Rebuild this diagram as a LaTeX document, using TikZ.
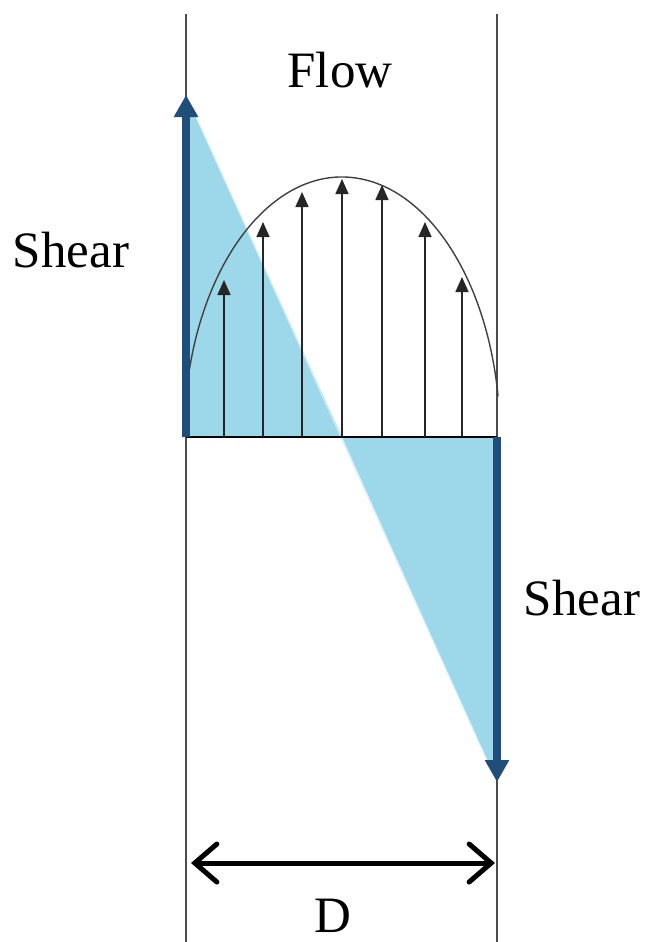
\documentclass[tikz,border=0pt]{standalone}
\usepackage{fontspec}
\setmainfont{Liberation Serif}
\usetikzlibrary{arrows.meta}
\definecolor{shearblue}{RGB}{31,78,121}
\definecolor{fillblue}{RGB}{157,216,234}

\begin{document}
\begin{tikzpicture}[x=0.5pt,y=-0.5pt,
  lbl/.style={font=\fontsize{25.5}{30}\selectfont,inner sep=0pt,anchor=base},
  wall/.style={draw=black!70,line width=0.8pt},
  vel/.style={-{Triangle[length=7.5pt,width=6.5pt]},line width=0.8pt,draw=black!85},
  shear/.style={-{Triangle[length=11pt,width=11.5pt]},line width=4pt,draw=shearblue},
  dim/.style={{Straight Barb[length=11pt,width=19pt,line cap=round]}-{Straight Barb[length=11pt,width=19pt,line cap=round]},line width=2.5pt,line cap=round}]
  \useasboundingbox (0,0) rectangle (645,942);
  % walls and reference points
  \coordinate (lwtop) at (186,14);  \coordinate (lwbot) at (186,942);
  \coordinate (rwtop) at (497,14);  \coordinate (rwbot) at (497,942);
  \coordinate (lbase) at (186,437); \coordinate (rbase) at (497,437);
  \coordinate (mid) at (342,437);
  \coordinate (stop) at (186,95);   \coordinate (sbot) at (497,782);
  % shear distribution
  \fill[fillblue] (stop) -- (mid) -- (lbase) -- cycle;
  \fill[fillblue] (mid) -- (rbase) -- (sbot) -- cycle;
  \draw[white!55!fillblue,line width=0.5pt] (stop) -- (sbot);
  \draw[wall] (lwtop) -- (lwbot);
  \draw[wall] (rwtop) -- (rwbot);
  \draw[line width=1pt] (lbase) -- (rbase);
  % velocity profile
  \foreach \x/\y in {224/280,263/222,302/192,342/179,382/185,425/222,462/277}
    \draw[vel] (\x,437) -- (\x,\y);
  \draw[black!75,line width=0.7pt] (mid) ++(-171:158 and 260)
    arc[start angle=-171,end angle=-9,x radius=158,y radius=260];
  \draw[shear] (lbase) -- (stop);
  \draw[shear] (rbase) -- (sbot);
  % labels
  \node[lbl] (flow) at (340,87) {Flow};
  \node[lbl] (shearl) at (71,267) {Shear};
  \node[lbl] (shearr) at (582,615) {Shear};
  \coordinate (dl) at (191,863); \coordinate (dr) at (495,863);
  \draw[dim] (dl) -- (dr);
  \node[lbl] (dlbl) at (333,932) {D};
\end{tikzpicture}
\end{document}
